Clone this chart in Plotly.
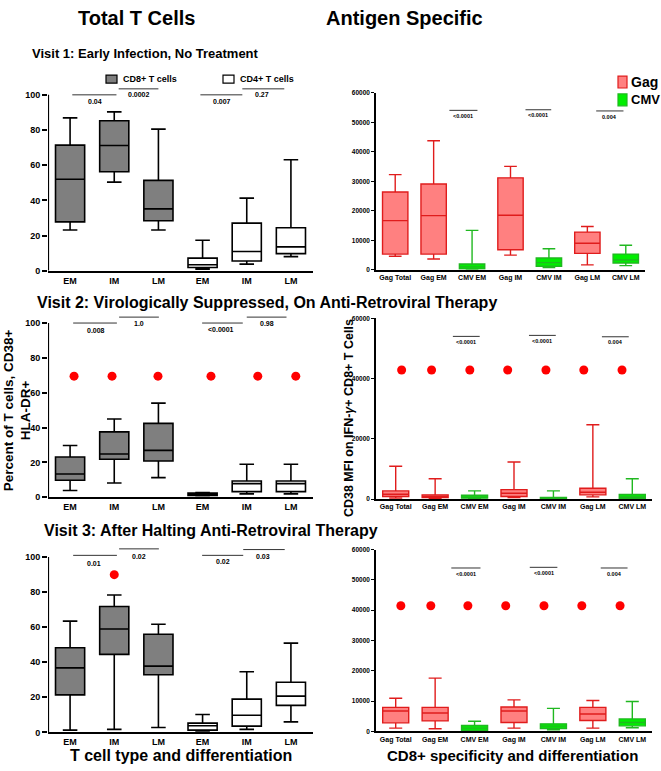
import plotly.graph_objects as go

W, H = 661, 771
FONT = "Liberation Sans, Arial, sans-serif"

def fx(p):
    return p / W

def fy(p):
    return 1 - p / H

# ---------------- data ----------------
left_cats = ["EM", "IM", "LM", "EM", "IM", "LM"]
right_cats = ["Gag Total", "Gag EM", "CMV EM", "Gag IM", "CMV IM", "Gag LM", "CMV LM"]

# Visit 1 total T cells (low, q1, median, q3, high) CD8 EM/IM/LM then CD4 EM/IM/LM
v1_low = [23.2, 50.4, 23.2, 1.0, 3.8, 8.1]
v1_q1 = [27.8, 56.3, 28.5, 1.9, 5.6, 9.8]
v1_med = [52.0, 71.2, 35.2, 3.5, 11.0, 13.6]
v1_q3 = [71.4, 85.3, 51.4, 7.2, 27.1, 24.5]
v1_high = [86.9, 90.3, 80.5, 17.4, 41.3, 63.1]

v2_low = [3.8, 8.1, 11.2, 0.8, 1.9, 1.9]
v2_q1 = [9.7, 21.8, 20.8, 1.0, 3.2, 3.2]
v2_med = [13.3, 24.8, 26.9, 1.7, 7.8, 7.8]
v2_q3 = [23.1, 37.5, 42.4, 2.3, 9.3, 9.3]
v2_high = [29.7, 44.9, 54.0, 2.7, 18.9, 18.9]

v3_low = [1.3, 1.7, 2.8, 0.8, 1.7, 6.0]
v3_q1 = [21.4, 44.5, 32.9, 1.3, 3.6, 15.4]
v3_med = [36.8, 59.0, 37.8, 3.8, 9.8, 20.7]
v3_q3 = [48.3, 71.8, 56.0, 5.3, 19.0, 28.6]
v3_high = [63.5, 78.4, 61.7, 10.2, 34.6, 50.9]

# Antigen specific CD38 MFI: Gag Total, Gag EM, CMV EM, Gag IM, CMV IM, Gag LM, CMV LM
a1_low = [4600, 3700, 100, 5000, 780, 1700, 1450]
a1_q1 = [5350, 5350, 330, 6800, 1230, 5580, 2340]
a1_med = [16700, 18400, 1000, 18500, 2450, 9030, 3350]
a1_q3 = [26400, 29100, 2000, 31200, 4010, 12800, 5350]
a1_high = [32300, 43800, 13400, 35100, 7140, 14700, 8360]

a2_low = [330, 220, 110, 550, 110, 770, 110]
a2_q1 = [870, 550, 330, 870, 110, 1420, 220]
a2_med = [1640, 870, 650, 1970, 330, 2300, 700]
a2_q3 = [2730, 1420, 1310, 3170, 550, 3600, 1530]
a2_high = [10930, 6780, 2730, 12350, 2730, 24700, 6780]

a3_low = [1080, 870, 110, 1080, 540, 1080, 1190]
a3_q1 = [2820, 3470, 330, 2930, 980, 3580, 1840]
a3_med = [6730, 6080, 1080, 6730, 1740, 5750, 2930]
a3_q3 = [7920, 7920, 1950, 8030, 2500, 7920, 4120]
a3_high = [10960, 17580, 3360, 10420, 7600, 10200, 9870]

# red outlier dots
v2_dot_x = [0.09, 0.95, 1.99, 3.19, 4.25, 5.11]
v2_dot_y = [69.5] * 6
v3_dot_x = [1.0]
v3_dot_y = [90.0]
a2_dot_x = [0.15, 0.91, 1.88, 2.84, 3.81, 4.77, 5.74]
a2_dot_y = [42850] * 7
a3_dot_x = [0.13, 0.89, 1.83, 2.79, 3.76, 4.72, 5.69]
a3_dot_y = [41450] * 7

# significance brackets: (x0, x1, y_line, label, label_x, label_y)
v1_sig = [(0.05, 1.05, 100, "0.04", 0.57, 96), (1.1, 2.0, 103.4, "0.0002", 1.56, 100),
          (2.95, 3.9, 100, "0.007", 3.44, 96), (3.9, 4.85, 103.4, "0.27", 4.34, 100)]
v2_sig = [(0.07, 1.06, 100, "0.008", 0.58, 96), (1.11, 2.01, 103.4, "1.0", 1.56, 100),
          (2.99, 3.91, 100, "<0.0001", 3.41, 96.4), (4.0, 4.9, 103.4, "0.98", 4.45, 100)]
v3_sig = [(0.07, 1.06, 101, "0.01", 0.54, 96.6), (1.11, 2.01, 104.7, "0.02", 1.56, 100.4),
          (2.99, 3.92, 101, "0.02", 3.46, 97.7), (3.92, 4.86, 104.3, "0.03", 4.37, 100.4)]
a1_sig = [(1.41, 2.14, 54100, "<0.0001", 1.77, 52200), (3.39, 4.06, 54300, "<0.0001", 3.72, 52400),
          (5.23, 5.94, 53900, "0.004", 5.58, 52000)]
a2_sig = [(1.45, 2.13, 54000, "<0.0001", 1.79, 52100), (3.38, 4.06, 54330, "<0.0001", 3.72, 52400),
          (5.23, 5.91, 53870, "0.004", 5.57, 52000)]
a3_sig = [(1.41, 2.15, 53920, "<0.0001", 1.78, 52080), (3.4, 4.1, 54140, "<0.0001", 3.75, 52300),
          (5.2, 5.88, 53920, "0.004", 5.54, 52080)]

# ---------------- style ----------------
GRAY_FILL = "#7f7f7f"
GAG_FILL = "#ff8080"
GAG_LINE = "#e01c1c"
CMV_FILL = "#00ee00"
CMV_LINE = "#20b820"
DOT = "#ff0000"

fig = go.Figure()

left_domains = [(83, 270, 105), (314, 499, 105), (549, 737, 106)]
right_domains = [(90, 269, 376, 645, 10000), (318, 501, 376, 652, 20000), (552, 736, 376, 652, 10000)]

left_data = [(v1_low, v1_q1, v1_med, v1_q3, v1_high),
             (v2_low, v2_q1, v2_med, v2_q3, v2_high),
             (v3_low, v3_q1, v3_med, v3_q3, v3_high)]
right_data = [(a1_low, a1_q1, a1_med, a1_q3, a1_high),
              (a2_low, a2_q1, a2_med, a2_q3, a2_high),
              (a3_low, a3_q1, a3_med, a3_q3, a3_high)]

layout_axes = {}
shapes = []
annotations = []

def sel(arr, idx):
    return [arr[i] for i in idx]

# left panels: axes 1,2,3
for k in range(3):
    n = k + 1
    xa = "x" if n == 1 else f"x{n}"
    ya = "y" if n == 1 else f"y{n}"
    top, bot, ytop = left_domains[k]
    low, q1, med, q3, high = left_data[k]
    for idx, fill in (([0, 1, 2], GRAY_FILL), ([3, 4, 5], "#ffffff")):
        fig.add_trace(go.Box(
            x=idx, lowerfence=sel(low, idx), q1=sel(q1, idx), median=sel(med, idx),
            q3=sel(q3, idx), upperfence=sel(high, idx), width=0.66, whiskerwidth=0.5,
            fillcolor=fill, line=dict(color="#000000", width=1.6), boxpoints=False,
            xaxis=xa, yaxis=ya, showlegend=False, hoverinfo="skip"))
    layout_axes[f"xaxis{n if n > 1 else ''}"] = dict(
        domain=[fx(48), fx(313)], range=[-0.5, 5.5], anchor=ya,
        tickvals=list(range(6)), ticktext=left_cats, showline=True, linewidth=2.2,
        linecolor="#000", ticks="", showgrid=False, zeroline=False,
        tickfont=dict(family=FONT, size=9, color="#000", weight="bold"))
    layout_axes[f"yaxis{n if n > 1 else ''}"] = dict(
        domain=[fy(bot), fy(top)], range=[0, ytop], anchor=xa,
        tickvals=[0, 20, 40, 60, 80, 100], showline=False, ticks="outside", ticklen=5,
        tickwidth=2, tickcolor="#000", showgrid=False, zeroline=False,
        tickfont=dict(family=FONT, size=9, color="#000", weight="bold"))
    shapes.append(dict(type="line", xref=xa, yref=ya, x0=-0.5, x1=-0.5, y0=0, y1=100,
                       line=dict(color="#000", width=2.2)))
    sig = [v1_sig, v2_sig, v3_sig][k]
    for (x0, x1, yl, lab, lx, ly) in sig:
        shapes.append(dict(type="line", xref=xa, yref=ya, x0=x0, x1=x1, y0=yl, y1=yl,
                           line=dict(color="#333", width=1)))
        annotations.append(dict(xref=xa, yref=ya, x=lx, y=ly, text=lab, showarrow=False,
                                font=dict(family=FONT, size=7, color="#000", weight="bold")))

fig.add_trace(go.Scatter(x=v2_dot_x, y=v2_dot_y, mode="markers", xaxis="x2", yaxis="y2",
                         marker=dict(color=DOT, size=9), showlegend=False, hoverinfo="skip"))
fig.add_trace(go.Scatter(x=v3_dot_x, y=v3_dot_y, mode="markers", xaxis="x3", yaxis="y3",
                         marker=dict(color=DOT, size=9), showlegend=False, hoverinfo="skip"))

# right panels: axes 4,5,6
for k in range(3):
    n = k + 4
    xa, ya = f"x{n}", f"y{n}"
    top, bot, xl, xr, dtick = right_domains[k]
    low, q1, med, q3, high = right_data[k]
    for idx, fill, lc in (([0, 1, 3, 5], GAG_FILL, GAG_LINE), ([2, 4, 6], CMV_FILL, CMV_LINE)):
        fig.add_trace(go.Box(
            x=idx, lowerfence=sel(low, idx), q1=sel(q1, idx), median=sel(med, idx),
            q3=sel(q3, idx), upperfence=sel(high, idx), width=0.66, whiskerwidth=0.5,
            fillcolor=fill, line=dict(color=lc, width=1.4), boxpoints=False,
            xaxis=xa, yaxis=ya, showlegend=False, hoverinfo="skip"))
    layout_axes[f"xaxis{n}"] = dict(
        domain=[fx(xl), fx(xr)], range=[-0.5, 6.5], anchor=ya,
        tickvals=list(range(7)), ticktext=right_cats, showline=True, linewidth=1.5,
        linecolor="#000", ticks="", showgrid=False, zeroline=False,
        tickfont=dict(family=FONT, size=7, color="#000", weight="bold"))
    layout_axes[f"yaxis{n}"] = dict(
        domain=[fy(bot), fy(top)], range=[0, 60000], anchor=xa,
        tickvals=list(range(0, 60001, dtick)), tickformat="d", showline=True, linewidth=1.5,
        linecolor="#000", ticks="outside", ticklen=3, tickwidth=1.2, tickcolor="#000",
        showgrid=False, zeroline=False,
        tickfont=dict(family=FONT, size=6.5, color="#000", weight="bold"))
    sig = [a1_sig, a2_sig, a3_sig][k]
    for (x0, x1, yl, lab, lx, ly) in sig:
        shapes.append(dict(type="line", xref=xa, yref=ya, x0=x0, x1=x1, y0=yl, y1=yl,
                           line=dict(color="#333", width=1)))
        annotations.append(dict(xref=xa, yref=ya, x=lx, y=ly, text=lab, showarrow=False,
                                font=dict(family=FONT, size=5.5, color="#000", weight="bold")))

fig.add_trace(go.Scatter(x=a2_dot_x, y=a2_dot_y, mode="markers", xaxis="x5", yaxis="y5",
                         marker=dict(color=DOT, size=9), showlegend=False, hoverinfo="skip"))
fig.add_trace(go.Scatter(x=a3_dot_x, y=a3_dot_y, mode="markers", xaxis="x6", yaxis="y6",
                         marker=dict(color=DOT, size=9), showlegend=False, hoverinfo="skip"))

# ---------------- legends ----------------
def legend_box(x0, y0, x1, y1, fill, lc, lw):
    shapes.append(dict(type="rect", xref="paper", yref="paper", x0=fx(x0), x1=fx(x1),
                       y0=fy(y1), y1=fy(y0), fillcolor=fill, line=dict(color=lc, width=lw)))

def text(x, y, s, size, xanchor="center", angle=0):
    annotations.append(dict(xref="paper", yref="paper", x=fx(x), y=fy(y), text=s,
                            showarrow=False, xanchor=xanchor, yanchor="middle", textangle=angle,
                            font=dict(family=FONT, size=size, color="#000", weight="bold")))

legend_box(106, 72, 117, 80, GRAY_FILL, "#000", 1.2)
text(121, 76, "CD8+ T cells", 9, xanchor="left")
legend_box(223, 72, 234, 80, "#ffffff", "#000", 1.2)
text(238, 76, "CD4+ T cells", 9, xanchor="left")
legend_box(618, 73, 627, 85, GAG_FILL, GAG_LINE, 1.2)
text(629, 79, "Gag", 14, xanchor="left")
legend_box(618, 91, 627, 103, CMV_FILL, CMV_LINE, 1.2)
text(629, 97, "CMV", 13, xanchor="left")

# ---------------- titles ----------------
text(136, 14, "Total T Cells", 20)
text(404, 14, "Antigen Specific", 20)
text(145, 50, "Visit 1: Early Infection, No Treatment", 13)
text(267, 302, "Visit 2: Virologically Suppressed, On Anti-Retroviral Therapy", 16)
text(211, 533, "Visit 3: After Halting Anti-Retroviral Therapy", 16)
text(17, 411, "Percent of T cells, CD38+<br>HLA-DR+", 13.5, angle=-90)
text(349, 419, "CD38 MFI on IFN-<i>γ</i>+ CD8+ T Cells", 12.5, angle=-90)
text(181, 760, "T cell type and differentiation", 16)
text(512, 760, "CD8+ specificity and differentiation", 15)

fig.update_layout(
    width=W, height=H, autosize=False, margin=dict(l=0, r=0, t=0, b=0),
    paper_bgcolor="#ffffff", plot_bgcolor="#ffffff", boxmode="overlay",
    showlegend=False, shapes=shapes, annotations=annotations, **layout_axes)

fig.write_html("out.html", config={"displayModeBar": False},
               post_script="document.body.style.margin='0';")
